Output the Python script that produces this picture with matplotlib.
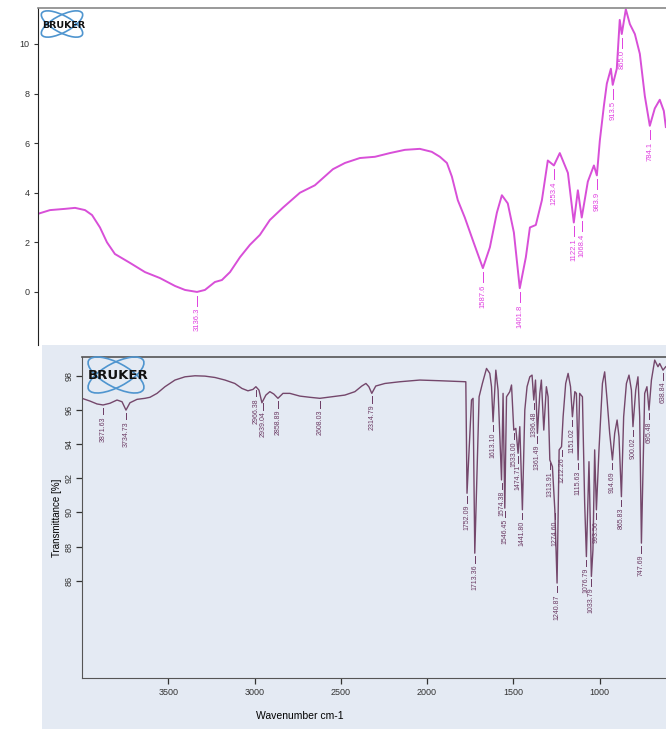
import numpy as np
import matplotlib
matplotlib.use("Agg")
import matplotlib.pyplot as plt
from matplotlib.patches import Ellipse, Rectangle
from matplotlib.transforms import IdentityTransform

plt.rcParams['font.family'] = ['Liberation Sans', 'DejaVu Sans']

# ---- top spectrum (magenta) ----
top_wn = [4000, 3935, 3854, 3799, 3745, 3707, 3664, 3626, 3583, 3501, 3420, 3339, 3257,
          3203, 3138, 3095, 3041, 3003, 2959, 2905, 2851, 2797, 2743, 2672, 2580, 2499,
          2401, 2336, 2255, 2173, 2092, 2011, 1930, 1865, 1821, 1783, 1756, 1724, 1686,
          1637, 1588, 1550, 1512, 1485, 1453, 1420, 1388, 1355, 1333, 1301, 1268, 1236,
          1203, 1171, 1127, 1095, 1073, 1052, 1019, 986, 970, 954, 932, 916, 894, 884,
          862, 846, 835, 813, 791, 764, 737, 710, 683, 656, 629, 607, 596]
top_val = [3.15, 3.3, 3.35, 3.39, 3.3, 3.1, 2.6, 2.0, 1.53, 1.17, 0.8, 0.56, 0.24,
           0.08, 0.0, 0.08, 0.4, 0.48, 0.8, 1.4, 1.9, 2.3, 2.9, 3.4, 4.0, 4.3,
           4.95, 5.2, 5.4, 5.45, 5.6, 5.73, 5.77, 5.65, 5.45, 5.2, 4.65, 3.7, 3.0,
           1.97, 0.96, 1.8, 3.2, 3.9, 3.57, 2.4, 0.15, 1.4, 2.6, 2.7, 3.7, 5.3,
           5.1, 5.6, 4.8, 2.8, 4.1, 3.0, 4.45, 5.1, 4.7, 6.1, 7.5, 8.4, 9.0, 8.35,
           9.0, 10.97, 10.4, 11.4, 10.8, 10.4, 9.6, 7.9, 6.7, 7.4, 7.75, 7.3, 6.65]
top_peaks = [3138, 1588, 1388, 1203, 1095, 1052, 970, 884, 835, 683]
top_peak_text = ["3136.3", "1587.6", "1401.8", "1253.4", "1122.1", "1068.4",
                 "983.9", "913.5", "865.0", "784.1"]

# ---- bottom spectrum (transmittance) ----
bot_wn = [4000, 3954, 3913, 3878, 3838, 3797, 3768, 3745, 3722, 3681, 3635, 3606, 3565,
          3519, 3461, 3403, 3345, 3287, 3229, 3171, 3114, 3073, 3038, 3009, 2992, 2974,
          2957, 2934, 2911, 2888, 2864, 2835, 2795, 2737, 2679, 2621, 2575, 2476, 2418,
          2378, 2354, 2337, 2320, 2297, 2244, 2158, 2042, 1926, 1775, 1768, 1742, 1733,
          1723, 1698, 1679, 1655, 1636, 1626, 1617, 1601, 1588, 1568, 1559, 1549, 1539,
          1520, 1510, 1497, 1485, 1472, 1462, 1447, 1433, 1420, 1404, 1391, 1381, 1371,
          1360, 1346, 1337, 1323, 1308, 1298, 1288, 1273, 1259, 1246, 1234, 1220, 1211,
          1196, 1182, 1168, 1157, 1143, 1134, 1124, 1115, 1099, 1086, 1076, 1061, 1047,
          1038, 1028, 1018, 1003, 983, 970, 956, 941, 925, 912, 898, 887, 873, 860, 844,
          829, 815, 806, 790, 777, 767, 757, 738, 725, 713, 699, 680, 661, 651, 632, 616]
bot_val = [96.68, 96.52, 96.35, 96.29, 96.39, 96.58, 96.48, 95.99, 96.42, 96.62, 96.68, 96.74, 96.97,
           97.36, 97.75, 97.94, 98.0, 97.98, 97.9, 97.75, 97.55, 97.26, 97.12, 97.2, 97.36, 97.16,
           96.42, 96.87, 97.07, 96.93, 96.68, 96.97, 96.97, 96.81, 96.74, 96.68, 96.74, 96.87, 97.07,
           97.4, 97.55, 97.36, 96.97, 97.4, 97.55, 97.65, 97.75, 97.71, 97.65, 91.12, 96.58, 96.68,
           87.61, 96.77, 97.55, 98.43, 98.14, 97.36, 95.31, 98.33, 97.16, 91.9, 96.97, 90.25, 96.77,
           97.07, 97.46, 94.82, 94.92, 93.46, 95.02, 90.15, 95.99, 97.36, 97.94, 98.04, 96.58, 97.75,
           94.63, 96.97, 97.75, 94.82, 97.36, 96.77, 93.07, 92.68, 90.15, 85.86, 93.66, 93.85, 95.6,
           97.55, 98.14, 97.36, 95.6, 97.07, 96.97, 93.07, 96.97, 96.77, 90.54, 87.41, 92.97, 86.25,
           87.8, 93.66, 90.15, 93.66, 97.55, 98.23, 96.58, 94.63, 93.07, 94.63, 95.41, 94.43, 90.92, 95.6, 97.55,
           98.04, 97.16, 95.02, 97.16, 97.94, 95.6, 88.2, 96.97, 97.36, 95.99, 97.75, 98.92, 98.53, 98.72, 98.33, 98.53]
bot_peaks = [3878, 3745, 2990, 2950, 2864, 2621, 2320, 1768, 1723, 1617, 1568, 1549, 1497,
             1472, 1447, 1381, 1360, 1288, 1259, 1246, 1220, 1157, 1124, 1076, 1047, 1018,
             925, 873, 806, 757, 713, 632]
bot_peak_text = ["3871.63", "3734.73", "2966.38", "2939.04", "2858.89", "2608.03", "2314.79",
                 "1752.09", "1713.36", "1613.10", "1574.38", "1546.45", "1533.00", "1474.71",
                 "1441.80", "1396.48", "1361.49", "1313.91", "1274.60", "1240.87", "1212.26",
                 "1151.02", "1115.63", "1076.79", "1033.79", "993.56", "914.69", "865.83",
                 "900.02", "747.69", "695.48", "638.84"]
bot_xticks = [3500, 3000, 2500, 2000, 1500, 1000]
bot_yticks = [86, 88, 90, 92, 94, 96, 98]
top_yticks = [0, 2, 4, 6, 8, 10]

W, H = 666, 729
fig = plt.figure(figsize=(W / 100, H / 100), dpi=100)
fig.patch.set_facecolor('white')


def px_box(left, top, width, height):
    return [left / W, 1 - (top + height) / H, width / W, height / H]


def logo(cx, cy, w, h, tx, fs):
    for ang in (28, -28):
        fig.add_artist(Ellipse((cx, H - cy), w, h, angle=ang, fill=False,
                               edgecolor='#4f95cf', lw=1.2, transform=IdentityTransform(),
                               zorder=5))
    fig.text(tx / W, 1 - (cy + 1) / H, "BRUKER", fontsize=fs, fontweight='bold',
             ha='center', va='center', color='#111111', zorder=6, family='DejaVu Sans')


# top panel
ax1 = fig.add_axes(px_box(38, 8, 664, 337))
ax1.plot(top_wn, top_val, color='#d84fd8', lw=1.4)
ax1.set_xlim(4000, 400)
ax1.set_ylim(-2.14, 11.45)
ax1.set_yticks(top_yticks)
ax1.set_xticks([])
ax1.tick_params(axis='y', labelsize=6.5, length=3, width=0.8, colors='#333333', pad=3)
for s in ['right', 'bottom']:
    ax1.spines[s].set_visible(False)
ax1.spines['left'].set_color('#222222')
ax1.spines['top'].set_color('#888888')
ax1.spines['top'].set_linewidth(1.2)
for p, t in zip(top_peaks, top_peak_text):
    y = np.interp(p, top_wn[::-1], top_val[::-1])
    ax1.plot([p, p], [y - 0.15, y - 0.55], color='#e040e0', lw=0.7)
    ax1.text(p, y - 0.65, t, rotation=90, ha='center', va='top', fontsize=5.5,
             color='#e040e0')
logo(62, 24, 46, 17, 64, 6.8)

# blue panel behind bottom chart
fig.add_artist(Rectangle((42 / W, 0), 1, 384 / H, transform=fig.transFigure,
                         facecolor='#e4eaf3', edgecolor='none', zorder=1))

# bottom panel
ax2 = fig.add_axes(px_box(82, 357, 621, 321))
ax2.set_zorder(2)
ax2.set_facecolor('#e4eaf3')
ax2.plot(bot_wn, bot_val, color='#74476b', lw=1.0)
ax2.set_xlim(4000, 400)
ax2.set_ylim(80.3, 99.1)
ax2.set_xticks(bot_xticks)
ax2.set_yticks(bot_yticks)
ax2.tick_params(axis='both', labelsize=6.5, length=4, width=0.9, colors='#333333')
ax2.tick_params(axis='y', labelrotation=90, pad=2)
for lab in ax2.get_yticklabels():
    lab.set_va('center')
ax2.spines['right'].set_visible(False)
for s in ['left', 'bottom', 'top']:
    ax2.spines[s].set_color('#555555')
ax2.spines['top'].set_linewidth(1.2)
ax2.set_ylabel("Transmittance [%]", fontsize=7, labelpad=2)
fig.text(300 / W, 1 - 716 / H, "Wavenumber cm-1", fontsize=7.5, ha='center',
         va='center', zorder=6)
for p, t in zip(bot_peaks, bot_peak_text):
    y = np.interp(p, bot_wn[::-1], bot_val[::-1])
    ax2.plot([p, p], [y - 0.18, y - 0.55], color='#6b3a63', lw=0.7)
    ax2.text(p, y - 0.65, t, rotation=90, ha='center', va='top', fontsize=5,
             color='#6b3a63')
logo(116, 375, 62, 24, 118, 9.5)

fig.savefig("out.png", dpi=100)
